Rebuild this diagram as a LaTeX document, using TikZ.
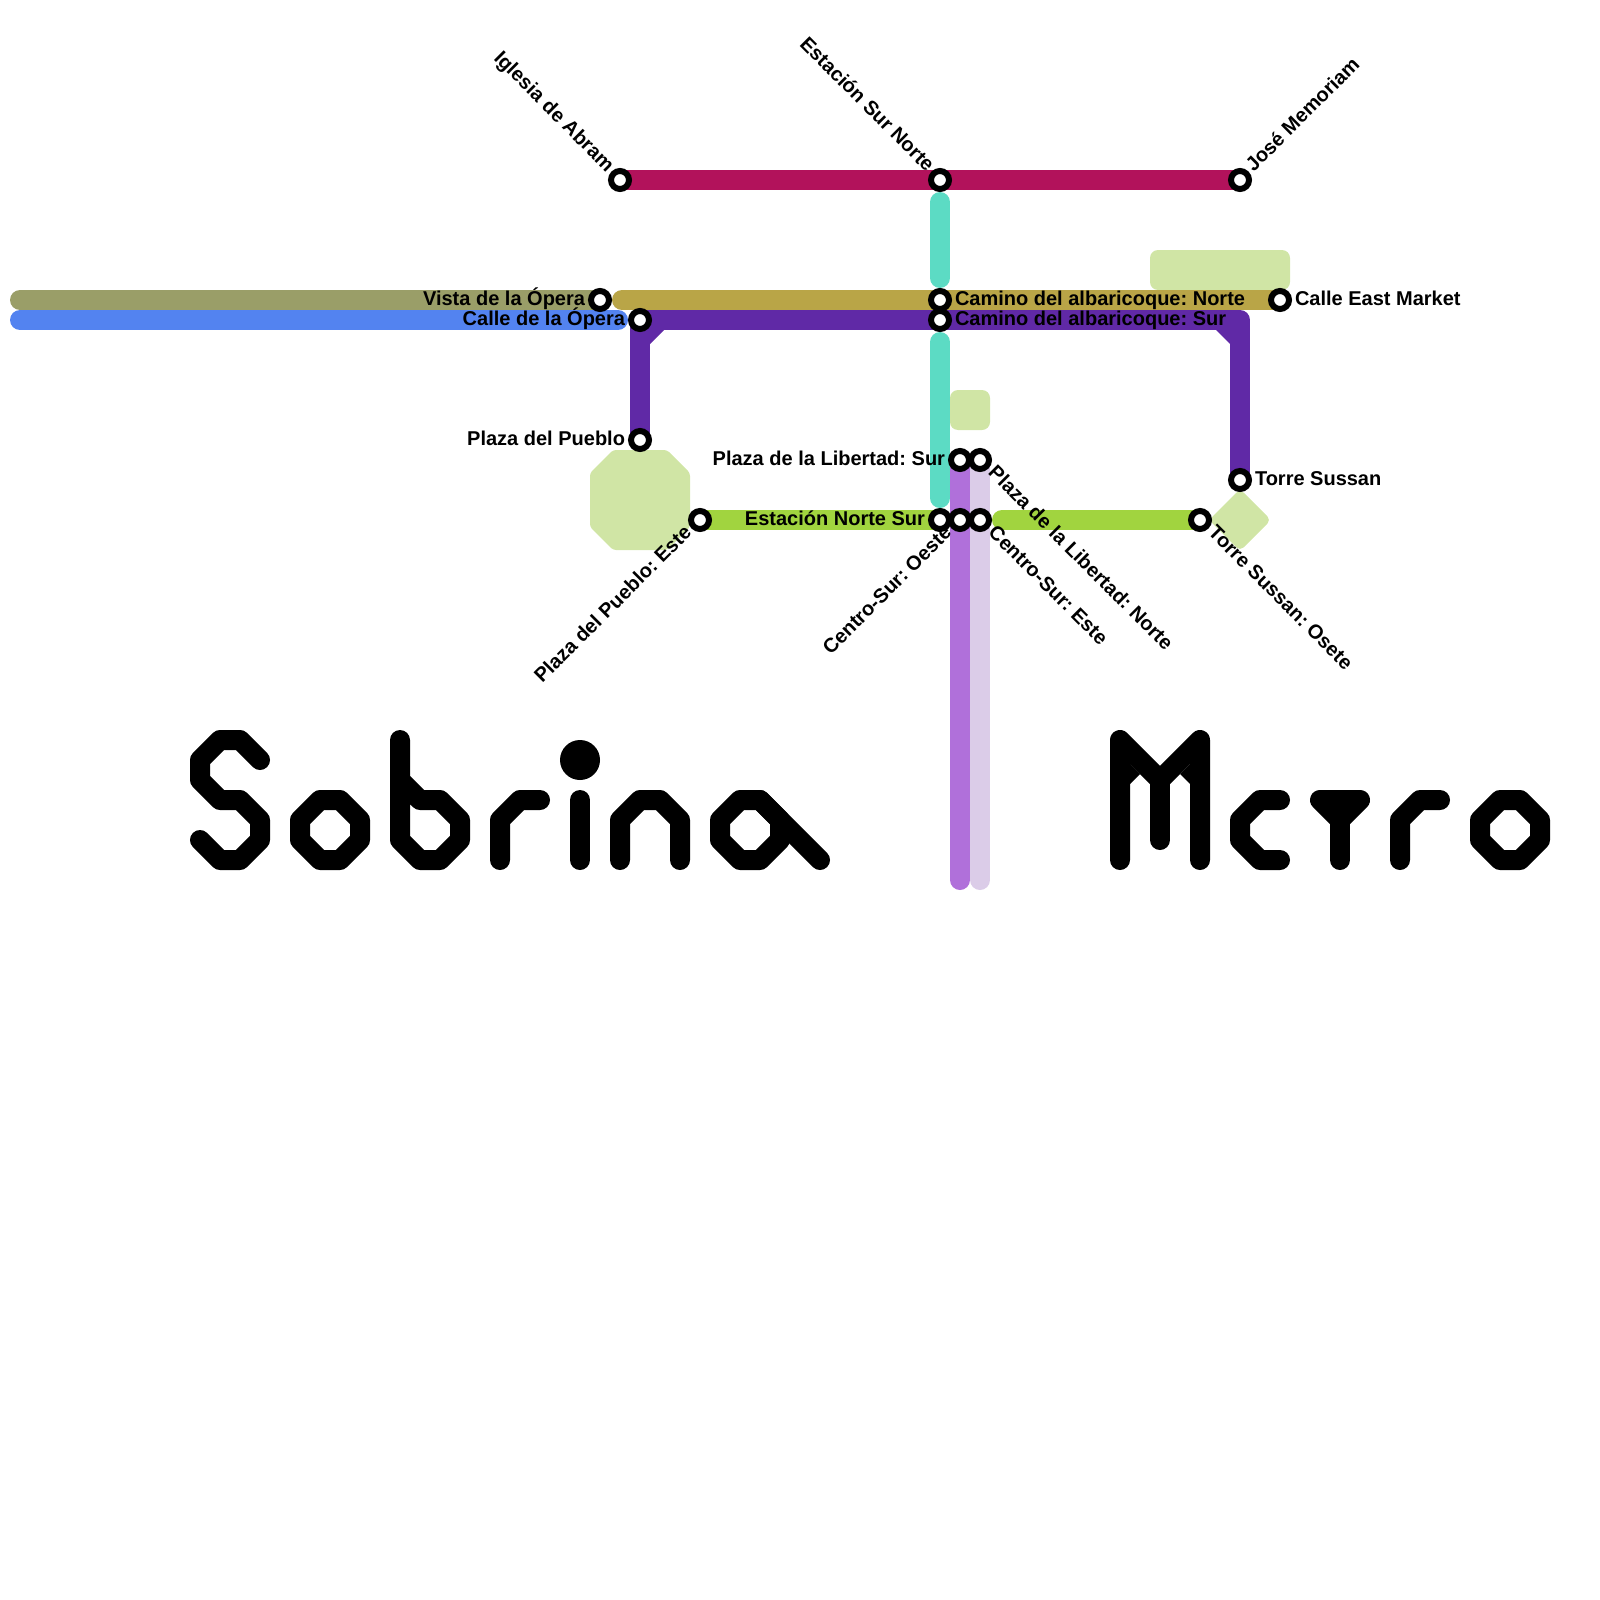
\documentclass[tikz,border=0pt]{standalone}
\usepackage{fontspec}
\setmainfont{Liberation Sans}
\usetikzlibrary{backgrounds}
\frenchspacing
\definecolor{cCrimson}{HTML}{B2125B}
\definecolor{cTeal}{HTML}{5CDBC4}
\definecolor{cGold}{HTML}{B9A547}
\definecolor{cPurple}{HTML}{6029A6}
\definecolor{cBlue}{HTML}{5383F0}
\definecolor{cOlive}{HTML}{9A9E68}
\definecolor{cLime}{HTML}{A1D43F}
\definecolor{cLav}{HTML}{B070DA}
\definecolor{cLilac}{HTML}{DBCCE8}
\definecolor{cPark}{HTML}{D0E5A5}
\tikzset{
  metro/.style={line width=20pt,line cap=round,line join=round},
  stationdot/.style={circle,draw=black,fill=white,line width=6pt,minimum size=18pt,inner sep=0pt,outer sep=0pt},
  stationlabel/.style={font=\bfseries\fontsize{20}{22}\selectfont,inner sep=0pt,outer sep=0pt,text=black},
  glyph/.style={draw=black,line width=20pt,line cap=round,line join=round}
}
\begin{document}
\begin{tikzpicture}[x=1pt,y=-1pt]
\useasboundingbox (0,0) rectangle (1600,1600);
% stations
\node[stationdot] (iglesia) at (620,180) {};
\node[stationdot] (surnorte) at (940,180) {};
\node[stationdot] (jose) at (1240,180) {};
\node[stationdot] (vista) at (600,300) {};
\node[stationdot] (caminoN) at (940,300) {};
\node[stationdot] (market) at (1280,300) {};
\node[stationdot] (calle) at (640,320) {};
\node[stationdot] (caminoS) at (940,320) {};
\node[stationdot] (pueblo) at (640,440) {};
\node[stationdot] (puebloE) at (700,520) {};
\node[stationdot] (nortesur) at (940,520) {};
\node[stationdot] (csO) at (960,520) {};
\node[stationdot] (csE) at (980,520) {};
\node[stationdot] (libS) at (960,460) {};
\node[stationdot] (libN) at (980,460) {};
\node[stationdot] (torreO) at (1200,520) {};
\node[stationdot] (torre) at (1240,480) {};
\coordinate (oliveEnd) at (20,300);
\coordinate (blueEnd) at (20,320);
\coordinate (cornerNE) at (1240,320);
\coordinate (lavEnd) at (960,880);
\coordinate (lilEnd) at (980,880);
% lines
\begin{scope}[on background layer]
\fill[cPark,rounded corners=3pt] (590,473)--(613,450)--(667,450)--(690,473)--(690,527)--(667,550)--(613,550)--(590,527)--cycle;
\fill[cPark,rounded corners=8pt] (1150,250) rectangle (1290,290);
\fill[cPark,rounded corners=8pt] (950,390) rectangle (990,430);
\fill[cPark,rounded corners=5pt] (1240,489)--(1271,520)--(1240,551)--(1209,520)--cycle;
\draw[metro,cOlive] (oliveEnd) -- (vista.center);
\draw[metro,cBlue,shorten >=22pt] (blueEnd) -- (calle.center);
\draw[metro,cGold,shorten <=22pt] (vista.center) -- (market.center);
\draw[metro,cTeal,shorten <=22pt,shorten >=22pt] (surnorte.center) -- (caminoN.center);
\draw[metro,cTeal,shorten <=22pt,shorten >=22pt] (caminoS.center) -- (nortesur.center);
\draw[metro,cCrimson] (iglesia.center) -- (jose.center);
\draw[metro,cLime] (puebloE.center) -- (nortesur.center);
\draw[metro,cLime,shorten <=22pt] (csE.center) -- (torreO.center);
\draw[metro,cLilac] (libN.center) -- (lilEnd);
\draw[metro,cLav] (libS.center) -- (lavEnd);
\draw[metro,cPurple] (pueblo.center) -- (calle.center) -- (cornerNE) -- (torre.center);
\fill[cPurple] (650,330)--(664,330)--(650,344)--cycle;
\fill[cPurple] (1230,330)--(1216,330)--(1230,344)--cycle;
\end{scope}
% labels
\node[stationlabel,anchor=base east,rotate=-45] (lIglesia) at (606.2,172.6) {Iglesia de Abram};
\node[stationlabel,anchor=base east,rotate=-45] (lSurNorte) at (926.2,172.6) {Estación Sur Norte};
\node[stationlabel,anchor=base west,rotate=45] (lJose) at (1253.8,172.6) {José Memoriam};
\node[stationlabel,anchor=base east] (lVista) at (585,305) {Vista de la Ópera};
\node[stationlabel,anchor=base east] (lCalle) at (625,325) {Calle de la Ópera};
\node[stationlabel,anchor=base west] (lCaminoN) at (955,305) {Camino del albaricoque: Norte};
\node[stationlabel,anchor=base west] (lCaminoS) at (955,325) {Camino del albaricoque: Sur};
\node[stationlabel,anchor=base west] (lMarket) at (1295,305) {Calle East Market};
\node[stationlabel,anchor=base east] (lPueblo) at (625,445) {Plaza del Pueblo};
\node[stationlabel,anchor=base east] (lLibS) at (945,465) {Plaza de la Libertad: Sur};
\node[stationlabel,anchor=base west] (lTorre) at (1255,485) {Torre Sussan};
\node[stationlabel,anchor=base east] (lNorteSur) at (925,525) {Estación Norte Sur};
\node[stationlabel,anchor=base east,rotate=45] (lPuebloE) at (692.6,533.8) {Plaza del Pueblo: Este};
\node[stationlabel,anchor=base east,rotate=45] (lcsO) at (952.6,533.8) {Centro-Sur: Oeste};
\node[stationlabel,anchor=base west,rotate=-45] (lcsE) at (987.4,533.8) {Centro-Sur: Este};
\node[stationlabel,anchor=base west,rotate=-45] (lLibN) at (987.4,473.8) {Plaza de la Libertad: Norte};
\node[stationlabel,anchor=base west,rotate=-45] (lTorreO) at (1207.4,533.8) {Torre Sussan: Osete};
% title
\draw[glyph] (260,760)--(240,740)--(220,740)--(200,760)--(200,780)--(220,800)--(240,800)--(260,820)--(260,840)--(240,860)--(220,860)--(200,840);
\draw[glyph] (320,800)--(340,800)--(360,820)--(360,840)--(340,860)--(320,860)--(300,840)--(300,820)--cycle;
\draw[glyph] (400,740)--(400,840)--(420,860)--(440,860)--(460,840)--(460,820)--(440,800)--(420,800)--(400,780);
\draw[glyph] (500,860)--(500,820)--(520,800)--(540,800);
\fill[black] (580,760) circle (20pt);
\draw[glyph] (580,800)--(580,860);
\draw[glyph] (620,860)--(620,820)--(640,800)--(660,800)--(680,820)--(680,860);
\draw[glyph] (740,800)--(760,800)--(780,820)--(780,840)--(760,860)--(740,860)--(720,840)--(720,820)--cycle;
\draw[glyph] (760,800)--(820,860);
\draw[glyph] (1120,860)--(1120,740)--(1160,780)--(1200,740)--(1200,860);
\draw[glyph] (1160,780)--(1160,840);
\fill[black] (1130,764)--(1140,774)--(1130,784)--cycle;
\fill[black] (1190,764)--(1180,774)--(1190,784)--cycle;
\draw[glyph] (1280,800)--(1260,800)--(1240,820)--(1240,840)--(1260,860)--(1280,860);
\draw[glyph] (1320,800)--(1360,800)--(1340,820)--cycle;
\draw[glyph] (1340,820)--(1340,860);
\draw[glyph] (1400,860)--(1400,820)--(1420,800)--(1440,800);
\draw[glyph] (1500,800)--(1520,800)--(1540,820)--(1540,840)--(1520,860)--(1500,860)--(1480,840)--(1480,820)--cycle;
\end{tikzpicture}
\end{document}
